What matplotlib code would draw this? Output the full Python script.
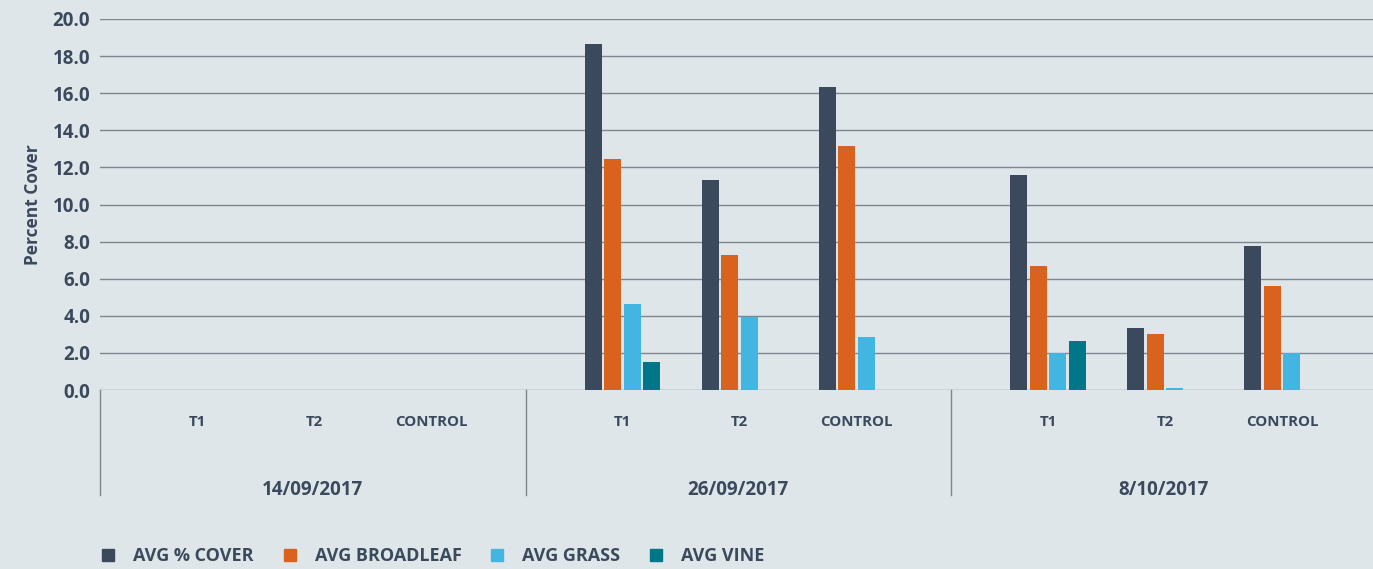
import matplotlib.pyplot as plt
from matplotlib.patches import Patch

# data
dates = ["14/09/2017", "26/09/2017", "8/10/2017"]
categories = ["T1", "T2", "CONTROL"]
series = ["AVG % COVER", "AVG BROADLEAF", "AVG GRASS", "AVG VINE"]
avg_cover = [0, 0, 0, 18.65, 11.32, 16.33, 11.59, 3.34, 7.76]
avg_broadleaf = [0, 0, 0, 12.45, 7.28, 13.15, 6.68, 3.02, 5.61]
avg_grass = [0, 0, 0, 4.64, 3.95, 2.86, 1.98, 0.1, 1.98]
avg_vine = [0, 0, 0, 1.51, 0, 0, 2.64, 0, 0]
yticks = [0, 2, 4, 6, 8, 10, 12, 14, 16, 18, 20]

colors = ['#3a4a5c', '#d9621e', '#42b6e0', '#007788']
bg = '#dfe6ea'
txt = '#3a4a5c'
plt.rcParams['font.family'] = ['Open Sans', 'DejaVu Sans']

fig = plt.figure(figsize=(13.73, 5.69), dpi=100, facecolor=bg)
ax = fig.add_axes([100/1373, 179/569, 1273/1373, 371/569], facecolor=bg)

group_w = 425.5
cat_off = [97, 214, 331]
bar_w = 17
step = 19.5

centers = []
for g in range(len(dates)):
    for c in range(len(categories)):
        centers.append(g * group_w + cat_off[c])

for i, vals in enumerate([avg_cover, avg_broadleaf, avg_grass, avg_vine]):
    xs = [c + (i - 1.5) * step for c in centers]
    ax.bar(xs, vals, width=bar_w, color=colors[i], zorder=3)

ax.set_xlim(0, 1273)
ax.set_ylim(0, 20)
ax.set_yticks(yticks)
ax.set_yticklabels([f"{v:.1f}" for v in yticks], fontsize=13.5, fontweight='bold', color=txt)
ax.tick_params(axis='y', length=0, pad=7)
ax.set_xticks([])
ax.grid(axis='y', color='#7d8790', lw=1, zorder=1)
for s in ax.spines.values():
    s.set_visible(False)
ax.set_ylabel("Percent Cover", fontsize=12.5, fontweight='bold', color=txt, labelpad=8)

# category axis below the plot
tr = ax.get_xaxis_transform()
for g in range(len(dates) + 1):
    ax.plot([g * group_w, g * group_w], [0, -0.283], transform=tr, color='#7d8790',
            lw=1, clip_on=False)
for i, c in enumerate(centers):
    ax.text(c, -0.086, categories[i % 3], transform=tr, ha='center', va='center',
            fontsize=10.8, fontweight='bold', color=txt)
for g, d in enumerate(dates):
    ax.text(g * group_w + group_w / 2, -0.27, d, transform=tr, ha='center', va='center',
            fontsize=13.5, fontweight='bold', color=txt)

handles = [Patch(color=colors[i], label=series[i]) for i in range(4)]
leg = fig.legend(handles=handles, loc='center left', bbox_to_anchor=(86/1373, 1 - 556/569),
                 ncol=4, frameon=False, handlelength=0.67, handleheight=0.67,
                 handletextpad=1.05, columnspacing=1.65, fontsize=13)
for t in leg.get_texts():
    t.set_color(txt)
    t.set_fontweight('bold')

fig.savefig("out.png", dpi=100, facecolor=bg)
